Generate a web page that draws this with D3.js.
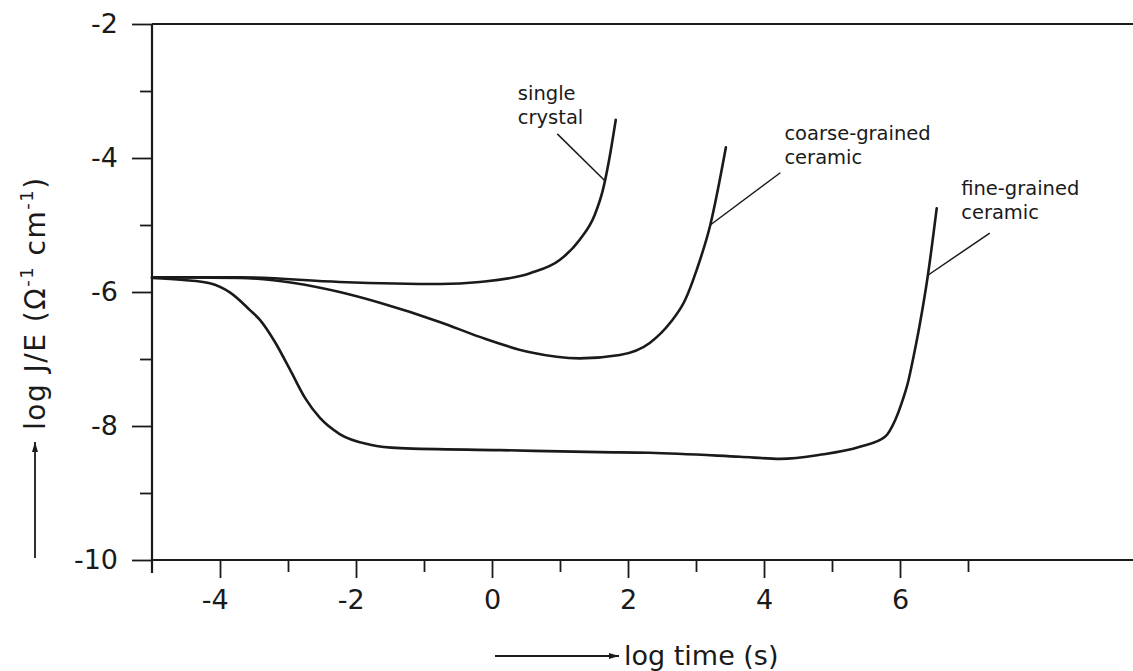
<!DOCTYPE html>
<html>
<head>
<meta charset="utf-8">
<script src="https://cdn.jsdelivr.net/npm/d3@7"></script>
<style>
  html, body { margin: 0; padding: 0; background: #fff; }
  svg { display: block; }
  text { font-family: "DejaVu Sans", sans-serif; fill: #1a1a1a; }
</style>
</head>
<body>
<svg id="chart" width="1133" height="671"></svg>
<script>
// ---- data (log time in s, log J/E) ----
const singleCrystalX = [-5.0, -3.71, -2.24, -0.76, -0.18, 0.56, 1.0, 1.29, 1.51, 1.63, 1.72, 1.82];
const singleCrystalY = [-5.78, -5.78, -5.85, -5.88, -5.85, -5.72, -5.52, -5.22, -4.85, -4.48, -4.04, -3.43];

const coarseX = [-5.0, -3.71, -2.24, -1.65, -0.76, -0.18, 0.56, 1.29, 1.88, 2.32, 2.62, 2.84, 3.01, 3.21, 3.44];
const coarseY = [-5.78, -5.79, -6.0, -6.16, -6.45, -6.67, -6.9, -6.99, -6.94, -6.76, -6.46, -6.12, -5.67, -5.0, -3.84];

const fineX = [-5.0, -4.54, -4.15, -3.85, -3.56, -3.41, -3.19, -2.97, -2.75, -2.53, -2.24, -1.79, -1.35, 0.12, 1.59, 2.32, 3.65, 4.24, 4.82, 5.41, 5.78, 5.93, 6.04, 6.12, 6.19, 6.29, 6.41, 6.54];
const fineY = [-5.79, -5.82, -5.87, -6.01, -6.27, -6.42, -6.75, -7.16, -7.58, -7.88, -8.12, -8.28, -8.33, -8.36, -8.39, -8.40, -8.46, -8.49, -8.43, -8.31, -8.16, -7.91, -7.61, -7.34, -7.01, -6.49, -5.75, -4.75];

const xMajorTicks = [-4, -2, 0, 2, 4, 6];
const xMinorTicks = [-3, -1, 1, 3, 5, 7];
const yMajorTicks = [-2, -4, -6, -8, -10];
const yMinorTicks = [-3, -5, -7, -9];

const labelNames = [["single", "crystal"], ["coarse-grained", "ceramic"], ["fine-grained", "ceramic"]];
// leader line: point on curve -> end point, and label anchor (data coords)
const leaderFrom = [[1.66, -4.34], [3.21, -5.0], [6.41, -5.75]];
const leaderTo   = [[0.96, -3.64], [4.24, -4.22], [7.32, -5.12]];
const labelAt    = [[0.38, -3.14], [4.30, -3.73], [6.90, -4.55]];

const xTitle = "log time (s)";

// ---- drawing ----
const svg = d3.select("#chart");
const W = 1133;
const x = d3.scaleLinear().domain([-5, 7]).range([152, 968]);
const y = d3.scaleLinear().domain([-10, -2]).range([560, 24]);
const ink = "#1a1a1a";

// frame lines
svg.append("line").attr("x1", x(-5)).attr("x2", W).attr("y1", y(-2)).attr("y2", y(-2))
  .attr("stroke", ink).attr("stroke-width", 2);
svg.append("line").attr("x1", x(-5)).attr("x2", W).attr("y1", y(-10)).attr("y2", y(-10))
  .attr("stroke", ink).attr("stroke-width", 2);
svg.append("line").attr("x1", x(-5)).attr("x2", x(-5)).attr("y1", y(-2)).attr("y2", y(-10) + 13)
  .attr("stroke", ink).attr("stroke-width", 2.2);

const fmt = d => d < 0 ? "-" + Math.abs(d) : d;

// y axis
const gy = svg.append("g").attr("transform", `translate(${x(-5)},0)`)
  .call(d3.axisLeft(y).tickValues(yMajorTicks).tickSize(20).tickPadding(14).tickFormat(fmt));
gy.select(".domain").remove();
gy.selectAll(".tick line").attr("stroke", ink).attr("stroke-width", 1.8);
gy.selectAll(".tick text").style("font-size", "27px").attr("fill", ink).style("font-family", '"DejaVu Sans", sans-serif');

const gy2 = svg.append("g").attr("transform", `translate(${x(-5)},0)`)
  .call(d3.axisLeft(y).tickValues(yMinorTicks).tickSize(12).tickFormat(""));
gy2.select(".domain").remove();
gy2.selectAll(".tick line").attr("stroke", ink).attr("stroke-width", 1.8);

// x axis
const gx = svg.append("g").attr("transform", `translate(0,${y(-10)})`)
  .call(d3.axisBottom(x).tickValues(xMajorTicks).tickSize(18).tickPadding(12).tickFormat(fmt));
gx.select(".domain").remove();
gx.selectAll(".tick line").attr("stroke", ink).attr("stroke-width", 1.8);
gx.selectAll(".tick text").style("font-size", "27px").attr("fill", ink)
  .style("font-family", '"DejaVu Sans", sans-serif')
  .attr("dx", d => d < 0 ? "-0.2em" : 0);

const gx2 = svg.append("g").attr("transform", `translate(0,${y(-10)})`)
  .call(d3.axisBottom(x).tickValues(xMinorTicks).tickSize(12).tickFormat(""));
gx2.select(".domain").remove();
gx2.selectAll(".tick line").attr("stroke", ink).attr("stroke-width", 1.8);

// curves
const line = d3.line().x(d => x(d[0])).y(d => y(d[1])).curve(d3.curveMonotoneX);
const series = [
  d3.zip(singleCrystalX, singleCrystalY),
  d3.zip(coarseX, coarseY),
  d3.zip(fineX, fineY)
];
svg.append("g").selectAll("path").data(series).join("path")
  .attr("d", line).attr("fill", "none").attr("stroke", ink)
  .attr("stroke-width", 2.6).attr("stroke-linejoin", "round").attr("stroke-linecap", "round");

// annotations
labelNames.forEach((lines, i) => {
  svg.append("line")
    .attr("x1", x(leaderFrom[i][0])).attr("y1", y(leaderFrom[i][1]))
    .attr("x2", x(leaderTo[i][0])).attr("y2", y(leaderTo[i][1]))
    .attr("stroke", ink).attr("stroke-width", 1.5);
  const t = svg.append("text").attr("x", x(labelAt[i][0])).attr("y", y(labelAt[i][1]))
    .style("font-size", "19.5px");
  lines.forEach((s, k) => {
    t.append("tspan").attr("x", x(labelAt[i][0])).attr("dy", k === 0 ? 0 : 24).text(s);
  });
});

// arrowhead marker
svg.append("defs").append("marker")
  .attr("id", "arr").attr("viewBox", "0 0 10 10").attr("refX", 10).attr("refY", 5)
  .attr("markerWidth", 14).attr("markerHeight", 10).attr("markerUnits", "userSpaceOnUse")
  .attr("orient", "auto")
  .append("path").attr("d", "M0,2 L10,5 L0,8 Z").attr("fill", ink);

// x title with arrow
svg.append("line").attr("x1", 495).attr("y1", 656).attr("x2", 619).attr("y2", 656)
  .attr("stroke", ink).attr("stroke-width", 1.8).attr("marker-end", "url(#arr)");
svg.append("text").attr("x", 624).attr("y", 665).style("font-size", "27px").text(xTitle);

// y title with arrow
svg.append("line").attr("x1", 35).attr("y1", 558).attr("x2", 35).attr("y2", 442)
  .attr("stroke", ink).attr("stroke-width", 1.8).attr("marker-end", "url(#arr)");
const yt = svg.append("text").attr("transform", "translate(45,430) rotate(-90)")
  .style("font-size", "28px").style("letter-spacing", "1.5px");
yt.append("tspan").text("log J/E  (Ω");
yt.append("tspan").attr("dy", -12).style("font-size", "18px").text("-1");
yt.append("tspan").attr("dy", 12).text(" cm");
yt.append("tspan").attr("dy", -12).style("font-size", "18px").text("-1");
yt.append("tspan").attr("dy", 12).text(")");
</script>
</body>
</html>
